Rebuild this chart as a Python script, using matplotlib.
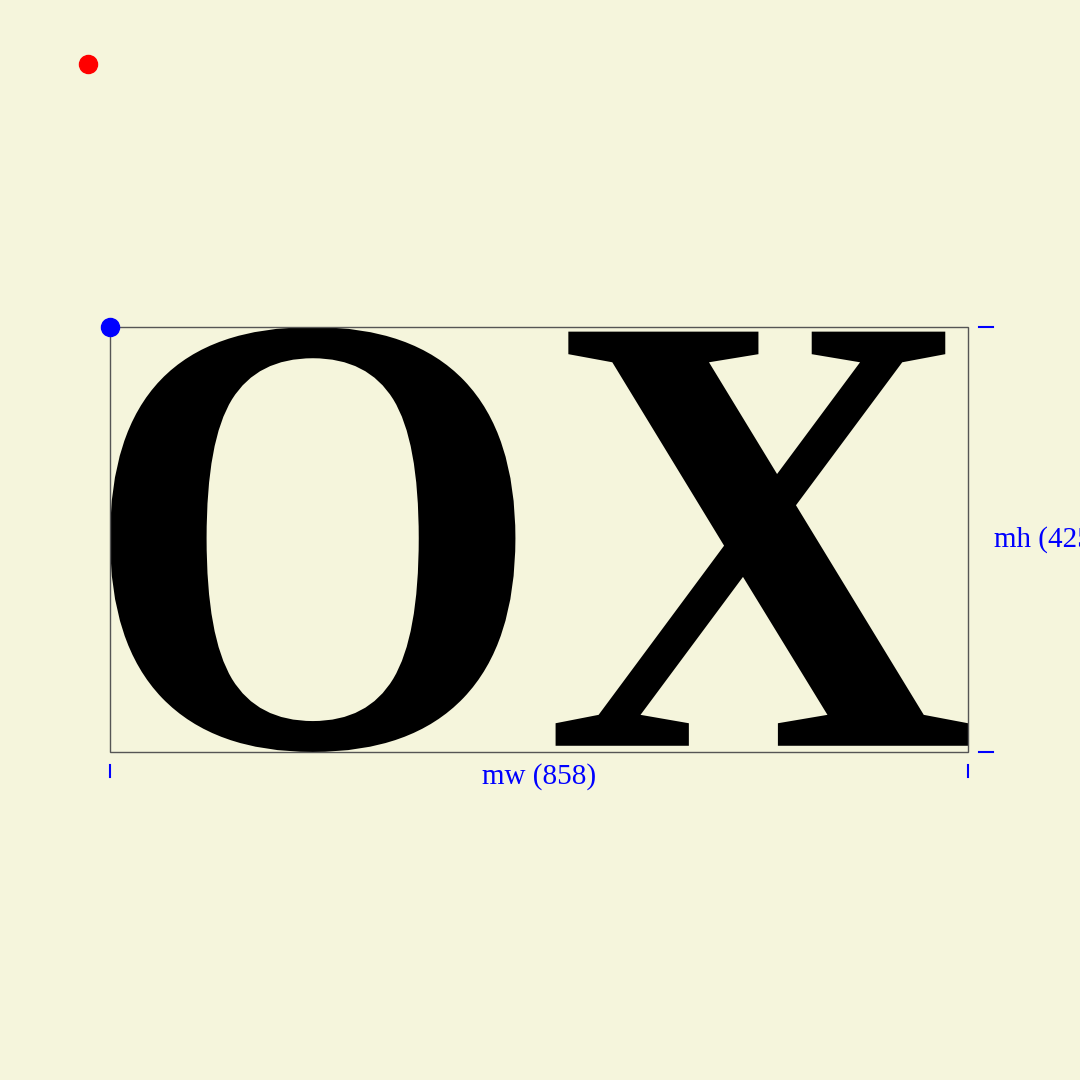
import matplotlib
matplotlib.use('Agg')
import matplotlib.pyplot as plt
from matplotlib.textpath import TextPath
from matplotlib.patches import PathPatch, Rectangle
from matplotlib.font_manager import FontProperties
from matplotlib.transforms import Affine2D

# measured text box (pixels, origin top-left)
word = "OX"
box_x, box_y = 110, 327
box_w, box_h = 858, 425
anchor = (88, 64)

fig = plt.figure(figsize=(10.8, 10.8), dpi=100, facecolor='#f5f5dc')
ax = fig.add_axes([0, 0, 1, 1])
ax.set_xlim(0, 1080)
ax.set_ylim(1080, 0)
ax.axis('off')

# the glyphs, scaled to fill the measured box
prop = FontProperties(family='Liberation Serif', weight='bold')
tp = TextPath((0, 0), word, size=1, prop=prop)
ext = tp.get_extents()
sx = box_w / ext.width
sy = box_h / ext.height
tr = Affine2D().translate(-ext.x0, -ext.y1).scale(sx, -sy).translate(box_x, box_y)
ax.add_patch(PathPatch(tr.transform_path(tp), facecolor='black', edgecolor='none'))

# bounding rectangle
ax.add_patch(Rectangle((box_x, box_y), box_w, box_h, fill=False, edgecolor='#555555', lw=1))

# dots
ax.plot(*anchor, 'o', color='red', ms=13)
ax.plot(box_x, box_y, 'o', color='blue', ms=13)

# width ticks and label
for x in (box_x, box_x + box_w):
    ax.plot([x, x], [765, 777], color='blue', lw=1.5)
ax.text(box_x + box_w / 2, 777, f"mw ({box_w})", color='blue', fontsize=21,
        family='Liberation Serif', ha='center', va='center')

# height ticks and label (runs off the right edge, as in the original)
for y in (box_y, box_y + box_h):
    ax.plot([979, 993], [y, y], color='blue', lw=1.5)
ax.text(994, box_y + box_h / 2, f"mh ({box_h})", color='blue', fontsize=21,
        family='Liberation Serif', ha='left', va='center')

fig.savefig('out.png', dpi=100, facecolor=fig.get_facecolor())
